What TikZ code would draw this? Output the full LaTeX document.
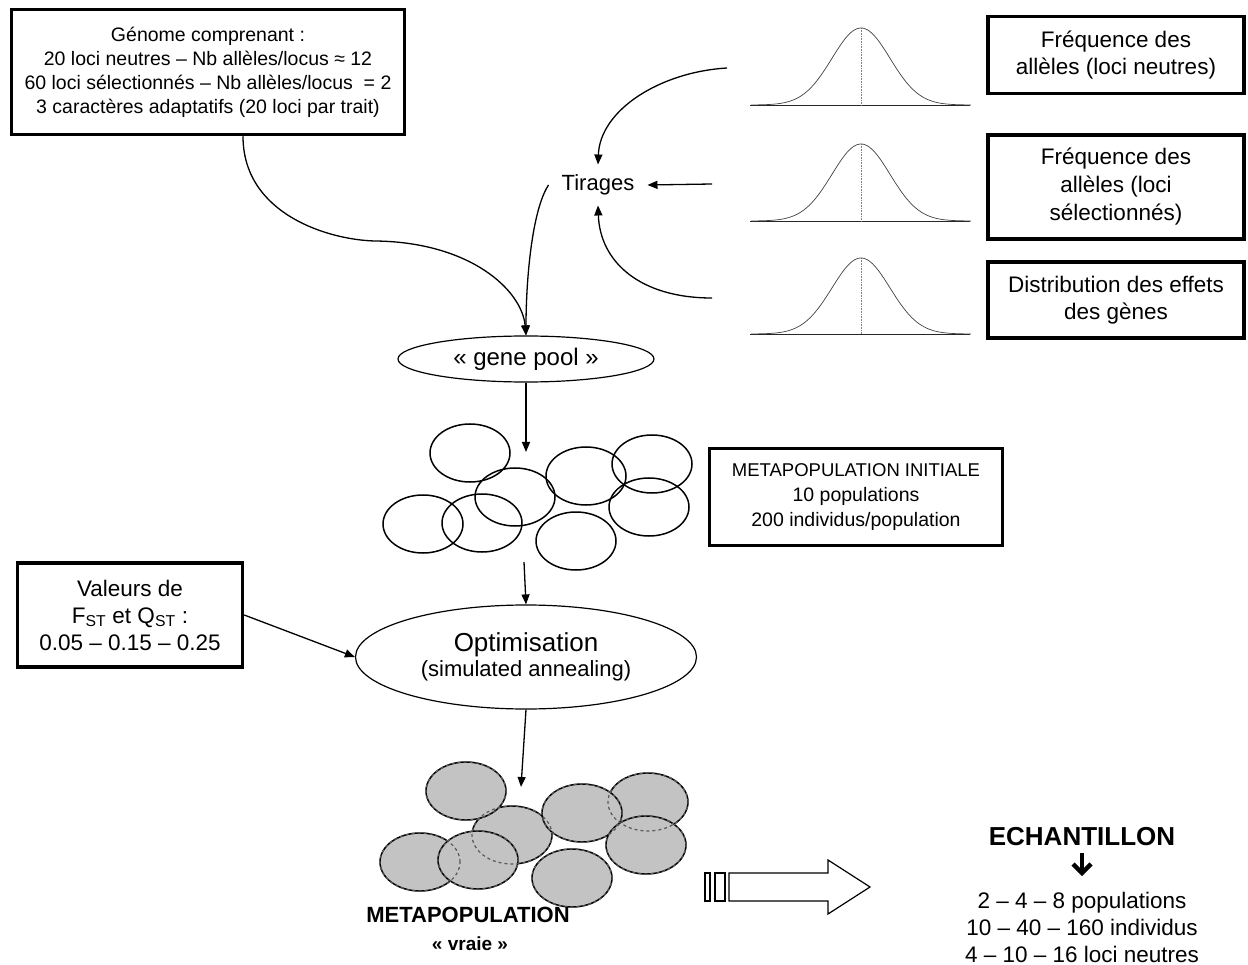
\documentclass[tikz,border=0pt]{standalone}
\usepackage{fontspec}
\setmainfont{Liberation Sans}
\usetikzlibrary{arrows.meta,shapes.geometric,calc}
\definecolor{popgray}{RGB}{195,195,195}
\newcommand{\fsz}[2]{\fontsize{#1}{#2}\selectfont}
\begin{document}
\begin{tikzpicture}[x=1pt,y=-1pt,
  thickbox/.style={draw,line width=3.5pt,rectangle,align=center,inner sep=0pt},
  con/.style={line width=1.3pt,-{Triangle[length=10pt,width=8pt]}},
  ell/.style={draw,line width=1.2pt,ellipse,inner sep=0pt,align=center},
  pop/.style={draw,line width=1.5pt},
  gpop/.style={draw,line width=1.5pt,fill=popgray},
  hid/.style={draw,line width=1.2pt,dashed,gray!70!black},
  gauss/.style={line width=0.7pt,gray!50!black},
  plain/.style={inner sep=2pt,align=center}
]
\useasboundingbox (0,0) rectangle (1248,965);

% ---- boxes ----
\node[thickbox,minimum width=393pt,minimum height=125pt,font=\fsz{19.5}{24}] (boxA) at (208,72)
 {Génome comprenant :\\20 loci neutres – Nb allèles/locus ≈ 12\\60 loci sélectionnés – Nb allèles/locus\ \ = 2\\3 caractères adaptatifs (20 loci par trait)};

\node[thickbox,minimum width=256pt,minimum height=77pt,font=\fsz{22.5}{27}] (b1) at (1116,55)
 {Fréquence des\\allèles (loci neutres)};
\node[thickbox,minimum width=256pt,minimum height=104pt,font=\fsz{22.5}{28}] (b2) at (1116,187)
 {Fréquence des\\allèles (loci\\sélectionnés)};
\node[thickbox,minimum width=256pt,minimum height=76pt,font=\fsz{22.5}{27}] (b3) at (1116,300)
 {Distribution des effets\\des gènes};

% ---- gaussians ----
\foreach \b/\h in {105/77,221/77,334/76}{
  \draw[line width=0.8pt,gray!30!black] (750,\b) -- (970,\b);
  \draw[gray,line width=0.6pt,densely dotted] (861,\b-\h) -- (861,\b);
  \draw[gauss] plot[domain=-110:110,samples=90] ({861+\x},{\b-\h*exp(-(\x/29)*(\x/29)/2)});
}

% ---- Tirages ----
\node[plain,inner xsep=13pt,inner ysep=10pt,font=\fsz{22}{26}] (tir) at (598,185) {Tirages};
\coordinate (g1s) at (727,68);
\coordinate (g2s) at (712,184);
\coordinate (g3s) at (712,298);
\draw[con] (g1s) .. controls (660,72) and (600,110) .. (tir.north);
\draw[con] (g2s) -- (tir.east);
\draw[con] (g3s) .. controls (640,298) and (600,262) .. (tir.south);

% ---- gene pool ----
\node[ell,minimum width=256pt,minimum height=46pt,font=\fsz{24}{28}] (gene) at (526,359) {« gene pool »};
\draw[con] ([xshift=35pt]boxA.south) .. controls (243,215) and (330,240) .. (375,241)
   .. controls (470,242) and (522,290) .. (gene.north);
\draw[con] (tir.west) .. controls (532,210) and (526,280) .. (gene.north);

% ---- initial metapopulation ----
\coordinate (popTop) at (526,452);
\coordinate (popBot) at (524,562);
\draw[con] (gene.south) -- (popTop);
\foreach \cx/\cy in {470/453,515/497,586/476,652/464,423/524,482/523,576/541,649/507}{
  \draw[pop] (\cx,\cy) ellipse [x radius=40pt,y radius=29pt];
}
\node[thickbox,minimum width=293pt,minimum height=97pt,font=\fsz{19.5}{25}] (mi) at (856,497)
 {{\fsz{18.5}{25}METAPOPULATION INITIALE}\\10 populations\\200 individus/population};

% ---- optimisation ----
\node[ell,minimum width=341pt,minimum height=104pt] (opt) at (526,657)
 {{\fsz{26}{30}Optimisation}\\[2pt]{\fsz{22}{26}(simulated annealing)}};
\node[thickbox,minimum width=225pt,minimum height=104pt,font=\fsz{22.5}{27}] (val) at (130,615)
 {Valeurs de\\F\textsubscript{ST} et Q\textsubscript{ST} :\\0.05 – 0.15 – 0.25};
\draw[con] (popBot) -- (opt.north);
\draw[con] (val.east) -- (opt.west);
\coordinate (gTop) at (521,787);
\draw[con] (opt.south) -- (gTop);

% ---- true metapopulation ----
\foreach \cx/\cy in {648/802,512/835,420/862,582/813,646/845,572/878,466/791,478/860}{
  \draw[gpop] (\cx,\cy) ellipse [x radius=40pt,y radius=29pt];
}
\foreach \cx/\cy in {648/802,512/835,420/862,582/813,646/845,572/878,466/791,478/860}{
  \draw[hid] (\cx,\cy) ellipse [x radius=40pt,y radius=29pt];
}
\node[plain,font=\bfseries\fsz{22}{26}] (meta) at (468,915) {METAPOPULATION};
\node[plain,font=\bfseries\fsz{19}{22}] (vraie) at (470,944) {« vraie »};

% ---- striped arrow ----
\draw[line width=1.2pt] (705,873) rectangle (710,901);
\draw[line width=1.2pt] (715,873) rectangle (725,901);
\draw[line width=1.2pt] (729,873) -- (828,873) -- (828,860) -- (870,887) -- (828,914) -- (828,901) -- (729,901) -- cycle;

% ---- sample ----
\node[plain,font=\bfseries\fsz{26}{30}] (ech) at (1082,837) {ECHANTILLON};
\draw[line width=4.5pt] (1082,853) -- (1082,872);
\draw[line width=4.5pt,line join=miter] (1073,864) -- (1082,873) -- (1091,864);
\node[plain,font=\fsz{22.5}{27}] (samp) at (1082,927)
 {2 – 4 – 8 populations\\10 – 40 – 160 individus\\4 – 10 – 16 loci neutres};
\end{tikzpicture}
\end{document}
